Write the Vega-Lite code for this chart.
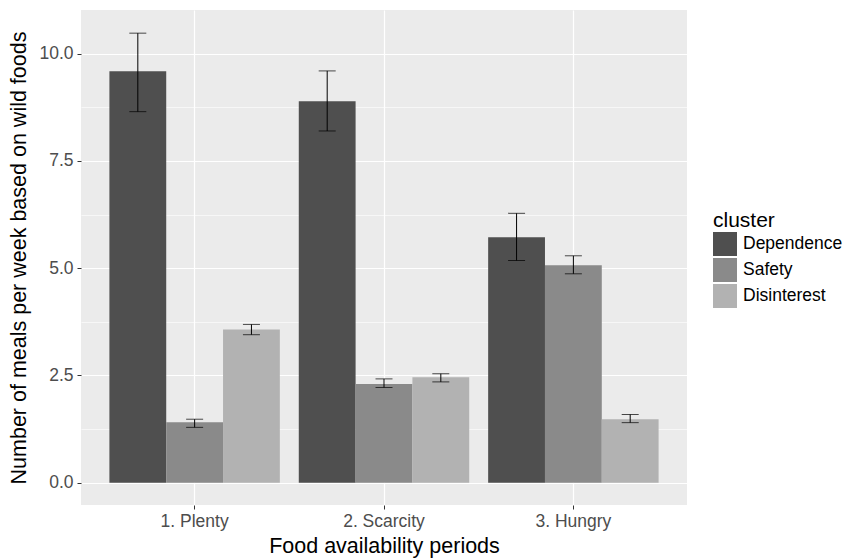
{
  "$schema": "https://vega.github.io/schema/vega-lite/v6.json",
  "width": 606,
  "height": 495,
  "autosize": {"type": "none"},
  "padding": {"left": 81, "top": 10, "right": 156, "bottom": 55},
  "background": "white",
  "config": {
    "font": "Liberation Sans",
    "view": {"fill": "#ebebeb", "stroke": null},
    "axis": {
      "domain": false,
      "gridColor": "white",
      "gridWidth": 1.2,
      "tickColor": "#333333",
      "tickSize": 4,
      "tickWidth": 1,
      "labelColor": "#4d4d4d",
      "labelFontSize": 17.5,
      "labelFont": "Liberation Sans",
      "titleFont": "Liberation Sans",
      "titleFontSize": 21.5,
      "titleFontWeight": "normal",
      "titleColor": "black"
    }
  },
  "data": {
    "values": [
      {"period": "1. Plenty", "cluster": "Dependence", "mean": 9.59, "lo": 8.65, "hi": 10.48},
      {"period": "1. Plenty", "cluster": "Safety", "mean": 1.41, "lo": 1.29, "hi": 1.48},
      {"period": "1. Plenty", "cluster": "Disinterest", "mean": 3.57, "lo": 3.45, "hi": 3.69},
      {"period": "2. Scarcity", "cluster": "Dependence", "mean": 8.89, "lo": 8.20, "hi": 9.60},
      {"period": "2. Scarcity", "cluster": "Safety", "mean": 2.30, "lo": 2.22, "hi": 2.42},
      {"period": "2. Scarcity", "cluster": "Disinterest", "mean": 2.46, "lo": 2.35, "hi": 2.54},
      {"period": "3. Hungry", "cluster": "Dependence", "mean": 5.72, "lo": 5.18, "hi": 6.28},
      {"period": "3. Hungry", "cluster": "Safety", "mean": 5.07, "lo": 4.87, "hi": 5.29},
      {"period": "3. Hungry", "cluster": "Disinterest", "mean": 1.48, "lo": 1.40, "hi": 1.59}
    ]
  },
  "encoding": {
    "x": {
      "field": "period",
      "type": "nominal",
      "scale": {"paddingInner": 0.1, "paddingOuter": 0.15},
      "axis": {
        "title": "Food availability periods",
        "labelAngle": 0,
        "labelPadding": 3,
        "titlePadding": 6,
        "bandPosition": 0.5,
        "grid": true
      }
    },
    "xOffset": {
      "field": "cluster",
      "type": "nominal",
      "sort": ["Dependence", "Safety", "Disinterest"],
      "scale": {"paddingInner": 0, "paddingOuter": 0}
    }
  },
  "layer": [
    {
      "mark": {"type": "bar"},
      "encoding": {
        "y": {
          "field": "mean",
          "type": "quantitative",
          "scale": {"domain": [-0.52, 11.02], "nice": false, "zero": false},
          "axis": {
            "title": "Number of meals per week based on wild foods",
            "values": [0, 2.5, 5, 7.5, 10],
            "format": ".1f",
            "labelPadding": 4,
            "titlePadding": 8
          }
        },
        "color": {
          "field": "cluster",
          "type": "nominal",
          "scale": {
            "domain": ["Dependence", "Safety", "Disinterest"],
            "range": ["#4f4f4f", "#8a8a8a", "#b2b2b2"]
          },
          "legend": {
            "title": "cluster",
            "orient": "none",
            "legendX": 632,
            "legendY": 200,
            "titleFontSize": 21,
            "titleFontWeight": "normal",
            "titleColor": "black",
            "titlePadding": 1,
            "labelFontSize": 17.5,
            "labelColor": "black",
            "labelOffset": 6,
            "symbolType": "square",
            "symbolSize": 576,
            "symbolStrokeWidth": 0,
            "symbolOpacity": 1,
            "rowPadding": 2
          }
        }
      }
    },
    {
      "mark": {"type": "rule", "color": "black", "strokeWidth": 1},
      "encoding": {
        "y": {
          "field": "lo",
          "type": "quantitative",
          "axis": {
            "orient": "right",
            "title": null,
            "values": [1.25, 3.75, 6.25, 8.75],
            "labels": false,
            "ticks": false,
            "domain": false,
            "grid": true,
            "gridWidth": 0.6
          }
        },
        "y2": {"field": "hi"}
      }
    },
    {
      "mark": {"type": "tick", "color": "black", "size": 17, "thickness": 1},
      "encoding": {"y": {"field": "hi", "type": "quantitative", "axis": null}}
    },
    {
      "mark": {"type": "tick", "color": "black", "size": 17, "thickness": 1},
      "encoding": {"y": {"field": "lo", "type": "quantitative", "axis": null}}
    }
  ],
  "resolve": {"axis": {"y": "independent"}}
}
